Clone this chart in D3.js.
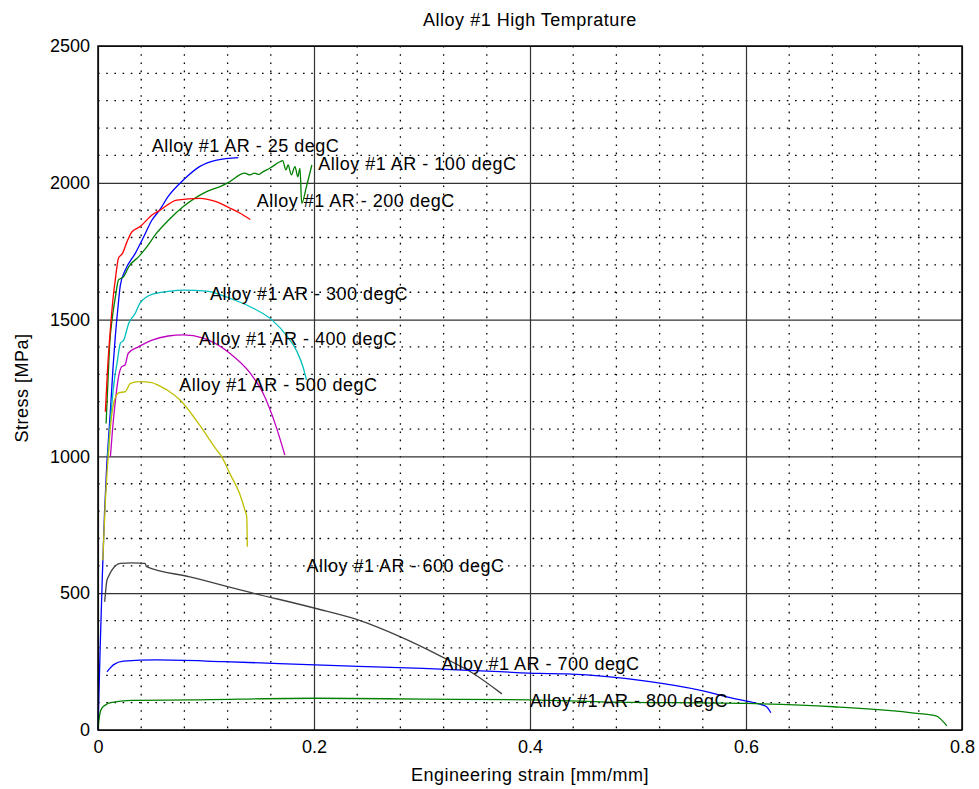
<!DOCTYPE html>
<html>
<head>
<meta charset="utf-8">
<script src="https://cdn.jsdelivr.net/npm/d3@7/dist/d3.min.js"></script>
<style>
  html, body { margin: 0; padding: 0; background: #fff; }
  svg text { font-family: "Liberation Sans", Arial, Helvetica, sans-serif; fill: #000; }
</style>
</head>
<body>
<svg id="chart" width="979" height="789"></svg>
<script>
// Tensile curves, [engineering strain (mm/mm), stress (MPa)]
const curve25 = [[0,0],[0.002,300],[0.004,560],[0.006,790],[0.008,960],[0.010,1080],[0.012,1200],[0.014,1330],[0.016,1437],[0.0185,1545],[0.0207,1626],[0.0253,1681],[0.0345,1742],[0.042,1800],[0.05,1864],[0.057,1900],[0.065,1950],[0.079,2010],[0.094,2059],[0.11,2083],[0.13,2092]];
const curve100 = [[0.0075,1120],[0.0095,1300],[0.011,1420],[0.013,1499],[0.016,1580],[0.019,1645],[0.0238,1657],[0.0284,1693],[0.0377,1730],[0.045,1765],[0.054,1815],[0.065,1862],[0.079,1913],[0.1006,1968],[0.113,1986],[0.1207,2001],[0.136,2035],[0.1407,2029],[0.145,2035],[0.149,2031],[0.153,2041],[0.159,2053],[0.1685,2077],[0.171,2081],[0.174,2047],[0.176,2065],[0.179,2029],[0.1824,2059],[0.185,2022],[0.187,2053],[0.1886,1925],[0.193,1986],[0.198,2065]];
const curve200 = [[0.0068,1163],[0.009,1330],[0.0114,1462],[0.014,1580],[0.016,1645],[0.019,1725],[0.0228,1743],[0.0269,1785],[0.0315,1821],[0.039,1840],[0.05,1882],[0.0574,1900],[0.073,1937],[0.094,1943],[0.11,1930],[0.122,1908],[0.132,1888],[0.141,1866]];
const curve300 = [[0.009,1000],[0.011,1100],[0.013,1200],[0.0155,1290],[0.0176,1340],[0.0207,1413],[0.0238,1425],[0.0284,1486],[0.0345,1523],[0.0389,1560],[0.05,1592],[0.065,1603],[0.079,1608],[0.1006,1604],[0.122,1578],[0.141,1547],[0.161,1499],[0.175,1440],[0.184,1385],[0.19,1325],[0.193,1280]];
const curve400 = [[0.0115,1000],[0.0135,1100],[0.016,1200],[0.019,1291],[0.022,1328],[0.025,1334],[0.028,1377],[0.0377,1401],[0.05,1425],[0.065,1440],[0.079,1444],[0.0975,1432],[0.122,1377],[0.141,1304],[0.153,1230],[0.165,1108],[0.173,1005]];
const curve500 = [[0.0045,620],[0.0053,700],[0.007,850],[0.0085,950],[0.0099,1023],[0.0114,1103],[0.0145,1195],[0.019,1232],[0.0253,1237],[0.030,1267],[0.0377,1273],[0.05,1270],[0.054,1263],[0.065,1240],[0.076,1206],[0.094,1115],[0.11,1023],[0.1145,999],[0.122,938],[0.131,865],[0.136,804],[0.1377,780],[0.1383,670]];
const curve600 = [[0.0062,469],[0.0083,548],[0.0096,560],[0.013,585],[0.0207,609],[0.0315,611],[0.0435,609],[0.045,597],[0.085,560],[0.141,503],[0.201,445],[0.2395,404],[0.2796,341],[0.3167,271],[0.346,210],[0.374,132]];
const curve700 = [[0.0083,213],[0.0096,219],[0.0142,238],[0.0235,252],[0.054,256],[0.116,250],[0.201,238],[0.301,225],[0.372,213],[0.409,207],[0.434,205],[0.511,177],[0.557,146],[0.588,116],[0.61,97],[0.619,85],[0.623,63]];
const curve800 = [[0,5],[0.001,40],[0.002,64],[0.004,82],[0.0068,91],[0.01,98],[0.016,103],[0.0315,108],[0.085,110],[0.201,116],[0.301,113],[0.4016,110],[0.465,103],[0.6006,97],[0.681,85],[0.758,61],[0.7766,51],[0.781,37],[0.786,15]];

const curveNames = ["Alloy #1 AR - 25 degC","Alloy #1 AR - 100 degC","Alloy #1 AR - 200 degC","Alloy #1 AR - 300 degC","Alloy #1 AR - 400 degC","Alloy #1 AR - 500 degC","Alloy #1 AR - 600 degC","Alloy #1 AR - 700 degC","Alloy #1 AR - 800 degC"];
const curveColors = ["#0000ff","#008000","#ff0000","#00bfbf","#bf00bf","#bfbf00","#404040","#0000ff","#008000"];
// Annotation anchor points (strain, stress), text left-aligned, vertically centred
const labelStrain = [0.0497,0.204,0.147,0.1037,0.0935,0.0753,0.193,0.318,0.400];
const labelStress = [2133,2069,1932,1592,1428,1261,599,242,106];

const xTicks = [0,0.2,0.4,0.6,0.8];
const xTickLabels = ["0","0.2","0.4","0.6","0.8"];
const yTicks = [0,500,1000,1500,2000,2500];
const yTickLabels = ["0","500","1000","1500","2000","2500"];
const xMinor = d3.range(0, 0.8001, 0.04);
const yMinor = d3.range(0, 2500.1, 100);

const curves = [curve25,curve100,curve200,curve300,curve400,curve500,curve600,curve700,curve800];

const svg = d3.select("#chart");
const margin = {left: 98, right: 17, top: 46, bottom: 59};
const W = 979, H = 789;
const iw = W - margin.left - margin.right;
const ih = H - margin.top - margin.bottom;

const x = d3.scaleLinear().domain([0, 0.8]).range([0, iw]);
const y = d3.scaleLinear().domain([0, 2500]).range([ih, 0]);

const g = svg.append("g").attr("transform", `translate(${margin.left},${margin.top})`);

// minor dotted grid
g.append("g").selectAll("line").data(xMinor.filter(v => !xTicks.some(t => Math.abs(t - v) < 1e-9)))
  .join("line")
  .attr("x1", d => x(d)).attr("x2", d => x(d)).attr("y1", 0).attr("y2", ih)
  .attr("stroke", "#000").attr("stroke-width", 1.3).attr("stroke-dasharray", "1.6,6.6");
g.append("g").selectAll("line").data(yMinor.filter(v => !yTicks.includes(v)))
  .join("line")
  .attr("y1", d => y(d)).attr("y2", d => y(d)).attr("x1", 0).attr("x2", iw)
  .attr("stroke", "#000").attr("stroke-width", 1.3).attr("stroke-dasharray", "1.6,6.6");

// major solid grid via axes
const xGrid = g.append("g").attr("transform", `translate(0,${ih})`)
  .call(d3.axisBottom(x).tickValues(xTicks).tickSize(-ih).tickFormat(""));
xGrid.select(".domain").remove();
xGrid.selectAll("line").attr("stroke", "#333").attr("stroke-width", 1.2);
const yGrid = g.append("g")
  .call(d3.axisLeft(y).tickValues(yTicks).tickSize(-iw).tickFormat(""));
yGrid.select(".domain").remove();
yGrid.selectAll("line").attr("stroke", "#333").attr("stroke-width", 1.2);

// curves
const line = d3.line().x(d => x(d[0])).y(d => y(d[1])).curve(d3.curveMonotoneX);
g.append("g").selectAll("path").data(curves).join("path")
  .attr("d", line)
  .attr("fill", "none")
  .attr("stroke", (d, i) => curveColors[i])
  .attr("stroke-width", 1.3)
  .attr("stroke-linejoin", "round");

// annotations
g.append("g").selectAll("text").data(curveNames).join("text")
  .attr("x", (d, i) => x(labelStrain[i]))
  .attr("y", (d, i) => y(labelStress[i]))
  .attr("dominant-baseline", "central")
  .style("font-size", "18px")
  .style("letter-spacing", "0.5px")
  .text(d => d);

// frame
g.append("rect").attr("x", 0).attr("y", 0).attr("width", iw).attr("height", ih)
  .attr("fill", "none").attr("stroke", "#000").attr("stroke-width", 1.5);

// tick labels
const xAxis = g.append("g").attr("transform", `translate(0,${ih})`)
  .call(d3.axisBottom(x).tickValues(xTicks).tickSize(0).tickPadding(10)
    .tickFormat((d, i) => xTickLabels[i]));
xAxis.select(".domain").remove();
xAxis.selectAll("text").style("font-size", "18px").style("font-family", "Liberation Sans, Arial, sans-serif");

const yAxis = g.append("g")
  .call(d3.axisLeft(y).tickValues(yTicks).tickSize(0).tickPadding(8)
    .tickFormat((d, i) => yTickLabels[i]));
yAxis.select(".domain").remove();
yAxis.selectAll("text").style("font-size", "18px").style("font-family", "Liberation Sans, Arial, sans-serif");

// title and axis titles
svg.append("text").attr("x", margin.left + iw / 2).attr("y", 20)
  .attr("text-anchor", "middle").attr("dominant-baseline", "central")
  .style("font-size", "18px").style("letter-spacing", "0.5px")
  .text("Alloy #1 High Temprature");
svg.append("text").attr("x", margin.left + iw / 2).attr("y", 775)
  .attr("text-anchor", "middle").attr("dominant-baseline", "central")
  .style("font-size", "18px").style("letter-spacing", "0.5px")
  .text("Engineering strain [mm/mm]");
svg.append("text")
  .attr("transform", `translate(22,${margin.top + ih / 2}) rotate(-90)`)
  .attr("text-anchor", "middle").attr("dominant-baseline", "central")
  .style("font-size", "18px").style("letter-spacing", "0.5px")
  .text("Stress [MPa]");
</script>
</body>
</html>
